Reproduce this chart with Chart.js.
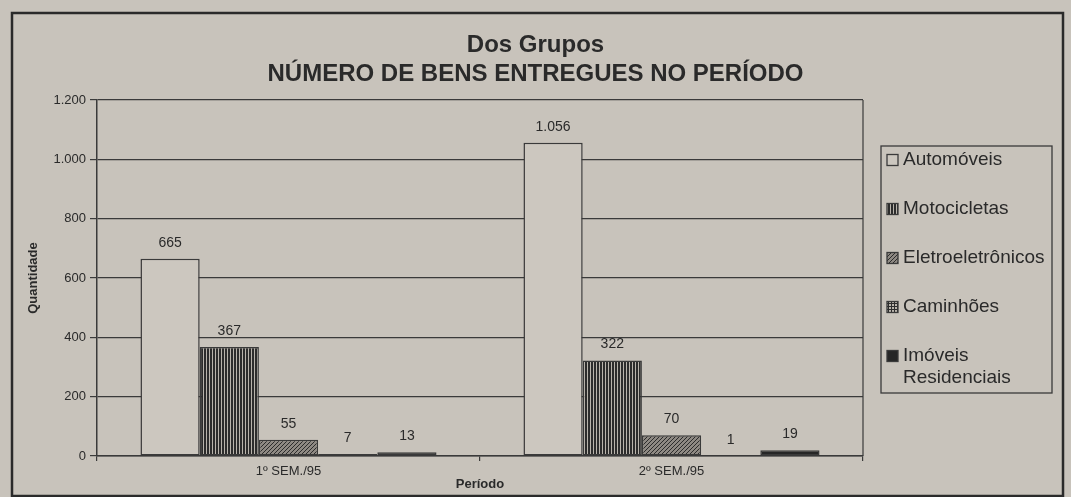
<!DOCTYPE html>
<html>
<head>
<meta charset="utf-8">
<script src="https://cdn.jsdelivr.net/npm/chart.js@4.4.1/dist/chart.umd.min.js"></script>
<style>
  html, body { margin: 0; padding: 0; background: #c8c3bb; }
  canvas { display: block; }
</style>
</head>
<body>
<canvas id="bensChart" width="1071" height="497"></canvas>
<script>
// dados
const periodos = ['1º SEM./95', '2º SEM./95'];
const automoveis = [665, 1056];
const motocicletas = [367, 322];
const eletroeletronicos = [55, 70];
const caminhoes = [7, 1];
const imoveis = [13, 19];
const seriesNomes = ['Automóveis', 'Motocicletas', 'Eletroeletrônicos', 'Caminhões', 'Imóveis Residenciais'];
const tituloLinhas = ['Dos Grupos', 'NÚMERO DE BENS ENTREGUES NO PERÍODO'];

const BG = '#c8c3bb';
const INK = '#2a2a2a';
const LINE = '#3a3a3a';
const FONT = "Arial, 'Liberation Sans', sans-serif";

function fmt(v) {
	return String(v).replace(/\B(?=(\d{3})+(?!\d))/g, '.');
}

// hachuras feitas num canvas pequeno
function makePattern(kind) {
	const c = document.createElement('canvas');
	const g = c.getContext('2d');
	if (kind === 'vertical') {
		c.width = 3; c.height = 3;
		g.fillStyle = '#b9b4ac'; g.fillRect(0, 0, 3, 3);
		g.fillStyle = '#2c2c2c'; g.fillRect(0, 0, 2, 3);
	} else if (kind === 'diagonal') {
		c.width = 4; c.height = 4;
		g.fillStyle = '#8e8983'; g.fillRect(0, 0, 4, 4);
		g.fillStyle = '#2c2c2c';
		for (let i = 0; i < 4; i++) g.fillRect(i, 3 - i, 1, 1);
	} else if (kind === 'grid') {
		c.width = 3; c.height = 3;
		g.fillStyle = '#b9b4ac'; g.fillRect(0, 0, 3, 3);
		g.fillStyle = '#2c2c2c'; g.fillRect(0, 0, 3, 1); g.fillRect(0, 0, 1, 3);
	}
	return g.createPattern(c, 'repeat');
}

const fills = [
	'#ccc7bf',
	makePattern('vertical'),
	makePattern('diagonal'),
	makePattern('grid'),
	'#262626'
];

const seriesValores = [automoveis, motocicletas, eletroeletronicos, caminhoes, imoveis];

const datasets = seriesValores.map((vals, i) => ({
	label: seriesNomes[i],
	data: vals,
	backgroundColor: fills[i],
	borderColor: LINE,
	borderWidth: 1.5,
	borderSkipped: false,
	barPercentage: 1.0,
	categoryPercentage: 0.773
}));

const decor = {
	id: 'decor',
	beforeDraw(chart) {
		const { ctx, width, height } = chart;
		ctx.save();
		ctx.fillStyle = BG;
		ctx.fillRect(0, 0, width, height);
		ctx.restore();
	},
	beforeDatasetsDraw(chart) {
		const { ctx, chartArea: a } = chart;
		ctx.save();
		ctx.strokeStyle = LINE;
		ctx.lineWidth = 1.2;
		ctx.beginPath();
		ctx.moveTo(a.right, a.top);
		ctx.lineTo(a.right, a.bottom);
		ctx.stroke();
		ctx.restore();
	},
	afterDatasetsDraw(chart) {
		const { ctx } = chart;
		ctx.save();
		ctx.fillStyle = INK;
		ctx.font = '14px ' + FONT;
		ctx.textAlign = 'center';
		ctx.textBaseline = 'alphabetic';
		chart.data.datasets.forEach((ds, i) => {
			chart.getDatasetMeta(i).data.forEach((bar, j) => {
				ctx.fillText(fmt(ds.data[j]), bar.x, bar.y - 12);
			});
		});
		ctx.restore();
	},
	afterDraw(chart) {
		const { ctx, chartArea: a, width } = chart;
		ctx.save();
		// titulo, centrado na figura toda
		ctx.fillStyle = INK;
		ctx.font = 'bold 24px ' + FONT;
		ctx.textAlign = 'center';
		ctx.textBaseline = 'middle';
		tituloLinhas.forEach((t, i) => ctx.fillText(t, width / 2, 45 + i * 29));
		// legenda
		const lx = a.right + 18, ly = 146, lw = 171, lh = 247;
		ctx.strokeStyle = LINE;
		ctx.lineWidth = 1.3;
		ctx.strokeRect(lx, ly, lw, lh);
		ctx.font = '19px ' + FONT;
		ctx.textBaseline = 'middle';
		ctx.textAlign = 'left';
		chart.data.datasets.forEach((ds, i) => {
			const cy = ly + 14 + i * 49;
			ctx.fillStyle = ds.backgroundColor;
			ctx.fillRect(lx + 6, cy - 5.5, 11, 11);
			ctx.lineWidth = 1.3;
			ctx.strokeRect(lx + 6, cy - 5.5, 11, 11);
			ctx.fillStyle = INK;
			const words = ds.label.split(' ');
			if (i === 4) {
				ctx.fillText(words[0], lx + 22, cy);
				ctx.fillText(words.slice(1).join(' '), lx + 22, cy + 22);
			} else {
				ctx.fillText(ds.label, lx + 22, cy);
			}
		});
		// moldura externa
		ctx.lineWidth = 2.5;
		ctx.strokeStyle = '#2a2a2a';
		ctx.strokeRect(12, 13, 1051, 483);
		ctx.restore();
	}
};

const ctx = document.getElementById('bensChart').getContext('2d');
const bensChart = new Chart(ctx, {
	type: 'bar',
	data: { labels: periodos, datasets: datasets },
	options: {
		responsive: false,
		animation: false,
		locale: 'pt-BR',
		layout: { padding: { left: 14, right: 208, top: 100, bottom: 0 } },
		plugins: {
			legend: { display: false },
			tooltip: { enabled: false },
			title: { display: false }
		},
		scales: {
			x: {
				grid: { drawOnChartArea: false, color: LINE, tickLength: 5, lineWidth: 1.2 },
				border: { color: LINE, width: 1.5 },
				ticks: { color: INK, font: { family: FONT, size: 13 }, padding: 3, maxRotation: 0 },
				title: { display: true, text: 'Período', color: INK, font: { family: FONT, size: 13, weight: 'bold' }, padding: { top: 0, bottom: 5 } },
				afterFit(scale) { scale.height = 41; }
			},
			y: {
				min: 0,
				max: 1200,
				ticks: { stepSize: 200, color: INK, font: { family: FONT, size: 13 }, padding: 4, callback: (v) => fmt(v) },
				grid: { color: LINE, lineWidth: 1.2, tickLength: 7 },
				border: { color: LINE, width: 1.5 },
				title: { display: true, text: 'Quantidade', color: INK, font: { family: FONT, size: 13, weight: 'bold' }, padding: { top: 12, bottom: 0 } },
				afterFit(scale) { scale.width = 83; }
			}
		}
	},
	plugins: [decor]
});
</script>
</body>
</html>
